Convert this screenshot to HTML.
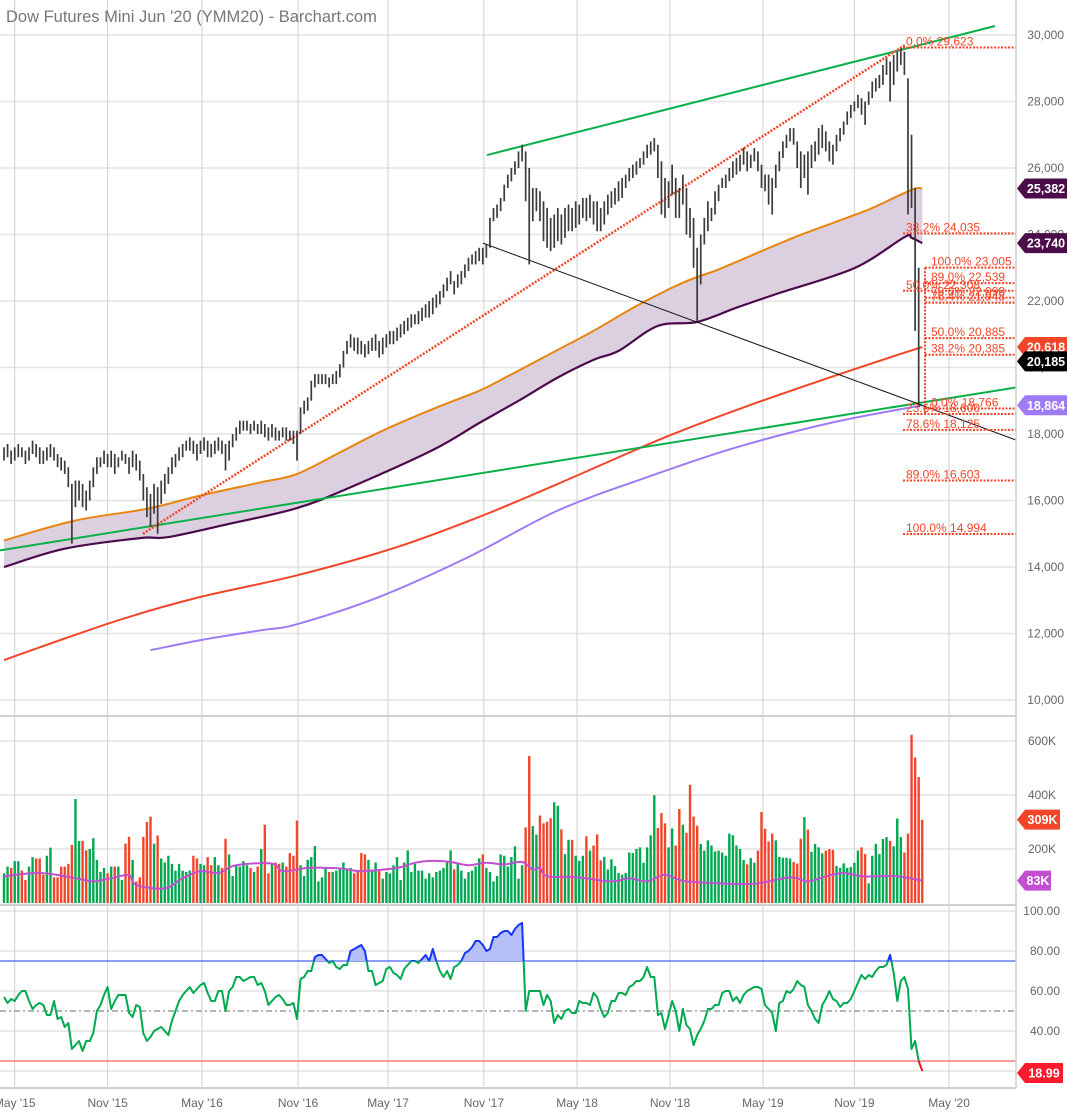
<!DOCTYPE html>
<html><head><meta charset="utf-8"><style>
html,body{margin:0;padding:0;background:#fff;}
svg{display:block;font-family:"Liberation Sans",sans-serif;}
</style></head><body>
<svg id="c" width="1068" height="1115" viewBox="0 0 1068 1115" xmlns="http://www.w3.org/2000/svg">
<defs>
<clipPath id="plotClip"><rect x="0" y="0" width="1016" height="716"/></clipPath>
<clipPath id="rsiHi"><rect x="0" y="905" width="1016" height="56"/></clipPath>
<clipPath id="rsiLo"><rect x="0" y="1061" width="1016" height="30"/></clipPath>
<clipPath id="rsiMid"><rect x="0" y="961" width="1016" height="100"/></clipPath>
</defs>
<g id="grid"></g>
<g id="price" clip-path="url(#plotClip)"></g>
<g id="vol"></g>
<g id="rsi"></g>
<g id="axes"></g>
<text x="6" y="22" font-size="16.5" fill="#777">Dow Futures Mini Jun '20 (YMM20) - Barchart.com</text>
</svg>
<script>
// ---- data (prices in hundreds) ----
const hiH=[176,177,175,176,177,176,175,176,178,177,176,175,176,177,176,174,173,172,170,165,166,166,165,163,166,170,173,173,175,174,175,174,173,175,174,173,175,174,172,168,164,162,165,164,166,168,170,173,174,176,177,178,179,178,177,178,179,178,177,178,179,178,177,178,180,182,184,184,184,183,184,183,184,183,182,183,182,181,182,182,181,181,181,188,190,191,196,198,198,198,198,197,198,199,201,205,208,210,209,209,208,207,208,209,210,208,209,210,211,211,212,213,214,215,216,216,217,218,219,220,221,222,223,225,227,229,226,228,229,231,233,234,235,236,236,237,245,248,249,251,255,258,260,262,265,267,265,260,254,254,253,250,248,245,246,248,246,248,249,248,250,249,251,251,252,250,250,248,250,252,253,254,256,257,258,260,261,262,263,265,267,268,269,267,262,257,256,261,257,254,258,254,248,245,236,240,245,250,248,253,255,257,258,260,262,263,264,266,265,264,266,265,261,258,258,257,261,265,268,270,272,272,268,265,264,265,267,268,272,273,271,268,267,270,272,274,277,279,280,282,281,280,283,286,287,288,291,293,292,294,295,296,295,287,270,254,230];
const loH=[172,173,171,172,173,173,171,172,174,173,171,171,172,173,172,170,169,168,164,147,158,160,158,157,160,164,168,170,171,170,170,168,170,172,171,168,170,169,166,160,155,152,156,150,159,162,165,168,170,172,173,175,175,174,172,174,175,173,173,174,175,174,169,172,176,178,180,181,181,180,181,180,180,179,178,179,178,178,179,178,178,177,172,180,186,187,190,194,195,195,195,194,195,195,197,200,204,206,205,204,204,203,204,205,205,203,204,206,207,207,208,209,210,211,212,213,213,214,215,215,216,218,219,221,223,225,222,224,225,227,229,231,231,232,231,233,236,244,245,247,250,254,256,258,260,262,250,231,244,247,244,238,236,235,236,238,237,239,241,241,242,243,245,244,245,243,241,241,243,246,248,249,250,251,254,256,257,258,260,261,263,264,265,257,246,245,248,252,245,245,249,240,239,230,214,225,237,241,244,246,250,254,254,256,257,258,259,261,259,260,262,259,254,253,249,246,254,259,263,266,268,267,260,254,257,252,260,262,264,266,265,262,261,265,268,270,273,275,277,278,276,273,279,281,283,284,285,288,280,285,289,291,288,246,248,211,188];
const volK=[110,135,130,155,155,120,85,135,170,165,165,105,175,205,95,95,135,135,145,215,385,230,230,195,200,240,160,115,130,110,135,135,135,85,220,245,160,80,95,245,300,320,220,250,165,150,175,145,120,145,120,115,120,175,165,145,140,170,140,170,140,130,238,180,100,140,135,155,140,130,115,135,200,290,110,145,150,145,150,135,185,175,305,140,100,160,170,211,80,95,130,115,115,120,125,150,125,130,110,115,185,180,160,120,150,120,90,115,110,140,170,85,150,195,115,145,120,120,90,110,95,115,120,130,150,195,125,150,120,90,115,120,135,165,180,130,115,80,100,180,175,135,170,210,90,140,280,545,
285,253,324,295,301,314,373,360,273,181,234,234,175,156,175,247,194,213,254,158,171,124,162,137,111,105,111,187,185,200,206,149,206,251,399,278,333,295,206,276,213,348,290,260,438,320,286,219,194,232,213,191,194,187,175,257,251,213,200,159,143,166,149,194,337,275,228,257,232,171,168,168,165,152,146,238,318,272,190,219,206,184,194,200,197,137,130,147,130,133,149,194,206,181,73,175,219,181,237,244,230,210,313,244,187,257,623,539,466,308];
const rsiVals=[57,54,56,55,58,60,60,55,51,53,54,53,48,48,55,46,47,42,44,31,33,35,30,35,35,39,50,53,58,62,51,55,58,58,58,49,47,53,52,39,35,37,40,41,42,40,38,45,50,55,58,60,62,59,61,63,64,59,55,55,60,60,50,60,62,67,67,65,66,67,67,63,64,60,53,55,57,58,56,53,53,54,46,66,67,70,70,77,78,78,76,74,75,72,71,73,73,80,81,82,83,80,70,70,63,64,65,71,72,69,68,66,71,73,75,75,74,76,78,75,81,75,70,67,70,66,72,73,75,79,80,82,85,85,83,80,81,87,87,89,90,90,88,91,93,94,50,60,
60,60,60,53,58,55,44,48,46,50,51,49,49,55,54,54,53,59,57,51,47,49,55,55,59,59,58,62,63,65,65,67,72,67,67,48,49,41,48,55,50,40,51,43,41,33,38,41,45,51,51,53,53,59,60,60,55,57,54,58,60,61,62,62,61,53,51,49,40,54,55,60,59,61,65,63,62,53,50,46,44,53,56,60,56,55,52,54,54,56,60,64,68,66,68,67,70,72,72,73,78,69,55,65,67,61,31,35,25,20];
// moving averages: week index / value
const maUpperWk=[0,20,40,55,72,82,95,106,120,133,140,147,155,165,177,190,200,212,222,232,242,250,255,257];
const maUpperVal=[14800,15400,15750,16150,16550,16800,17500,18100,18750,19300,19680,20075,20530,21100,21850,22550,22950,23500,23950,24350,24750,25150,25380,25382];
const maLowerWk=[0,17,38,46,64,82,97,120,133,144,155,165,172,183,194,205,217,238,252,254,257];
const maLowerVal=[14000,14550,14870,14900,15320,15770,16400,17520,18330,19000,19700,20230,20500,21250,21370,21800,22240,22990,23920,23900,23740];
const maRedWk=[0,17,35,55,82,110,134,155,185,207,238,257];
const maRedVal=[11200,11850,12500,13100,13750,14600,15550,16500,17900,18800,19950,20618];
const maVioWk=[41,55,72,82,105,130,155,180,205,232,257];
const maVioVal=[11500,11800,12100,12280,13100,14300,15700,16700,17600,18350,18864];
const volMaWk=[0,10,20,25,30,35,37,45,50,55,60,65,75,78,85,90,95,100,110,115,120,125,130,135,140,145,148,150,152,160,170,175,180,185,190,200,210,220,225,230,235,240,245,250,257];
const volMaVal=[99,111,92,80,92,103,67,54,92,118,111,140,146,118,130,130,127,118,130,149,156,152,140,149,143,152,124,130,99,96,80,92,80,105,82,73,71,95,80,99,111,99,99,99,83];
const priceTicks=[30000,28000,26000,24000,22000,20000,18000,16000,14000,12000,10000];
const volTicks=[600,400,200];
const rsiTicks=[100,80,60,40];
const xLabels=["May '15","Nov '15","May '16","Nov '16","May '17","Nov '17","May '18","Nov '18","May '19","Nov '19","May '20"];
const xLabelWk=[3.0,29.0,55.4,82.3,107.5,134.3,160.4,186.4,212.4,238.0,264.5];
const fibs=[[29623,"0.0% 29,623",903,906],[24035,"38.2% 24,035",903,906],[23005,"100.0% 23,005",925,931],[22539,"89.0% 22,539",925,931],[22308,"50.0% 22,308",903,906],[22098,"78.6% 22,098",925,931],[21948,"76.4% 21,948",925,931],[20885,"50.0% 20,885",925,931],[20385,"38.2% 20,385",925,931],[18766,"0.0% 18,766",925,931],[18600,"23.6% 18,600",903,906],[18125,"78.6% 18,125",903,906],[16603,"89.0% 16,603",903,906],[14994,"100.0% 14,994",903,906]];

// ---- scales ----
const NS="http://www.w3.org/2000/svg";
const xW=i=>4+i*3.573;
const yP=p=>35+(30000-p)*0.03325;
const yV=k=>903-k*0.27;
const yR=r=>1111-r*2;
function mk(tag,attrs,parent){const e=document.createElementNS(NS,tag);for(const k in attrs)e.setAttribute(k,attrs[k]);parent.appendChild(e);return e;}
const G=id=>document.getElementById(id);
const grid=G('grid'),price=G('price'),vol=G('vol'),rsi=G('rsi'),axes=G('axes');

// grid
priceTicks.forEach(p=>{const l=mk('line',{x1:0,x2:1016,y1:yP(p),y2:yP(p),stroke:'#e4e4e4','stroke-width':1.5},grid);
});
volTicks.forEach(k=>{const l=mk('line',{x1:0,x2:1016,y1:yV(k),y2:yV(k),stroke:'#e4e4e4','stroke-width':1.5},grid);
});
[100,80,60,40,20].forEach(r=>{const l=mk('line',{x1:0,x2:1016,y1:yR(r),y2:yR(r),stroke:'#e4e4e4','stroke-width':1.5},grid);
});
xLabelWk.forEach(w=>{const l=mk('line',{x1:xW(w),x2:xW(w),y1:0,y2:1088,stroke:'#d0d0d0','stroke-width':1},grid);
});

// smooth path helpers
function xy(wk,val,fy){return wk.map((w,i)=>[xW(w),fy(val[i])]);}
function smooth(P){let d='M'+P[0][0].toFixed(1)+','+P[0][1].toFixed(1);
for(let i=0;i<P.length-1;i++){const p0=P[Math.max(0,i-1)],p1=P[i],p2=P[i+1],p3=P[Math.min(P.length-1,i+2)];
const c1=[p1[0]+(p2[0]-p0[0])/6,p1[1]+(p2[1]-p0[1])/6],c2=[p2[0]-(p3[0]-p1[0])/6,p2[1]-(p3[1]-p1[1])/6];
d+=` C${c1[0].toFixed(1)},${c1[1].toFixed(1)} ${c2[0].toFixed(1)},${c2[1].toFixed(1)} ${p2[0].toFixed(1)},${p2[1].toFixed(1)}`;}
return d;}
function smoothRev(P){const R=P.slice().reverse();return smooth(R).replace(/^M/,'L');}

// band fill
const U=xy(maUpperWk,maUpperVal,yP),Lw=xy(maLowerWk,maLowerVal,yP);
const band=mk('path',{d:smooth(U)+' '+smoothRev(Lw)+' Z',fill:'#dccfe0'},price);

function line(wk,val,fy,color,w,parent,name){const l=mk('path',{d:smooth(xy(wk,val,fy)),fill:'none',stroke:color,'stroke-width':w,'stroke-linejoin':'round'},parent);
return l;}
line(maRedWk,maRedVal,yP,'#f2452a',2,price,'ma-red-line');
line(maVioWk,maVioVal,yP,'#9e7bf5',2,price,'ma-violet-line');
line(maUpperWk,maUpperVal,yP,'#e8860c',2,price,'ma-upper-line');
line(maLowerWk,maLowerVal,yP,'#4b0a4b',2.2,price,'ma-lower-line');

// trendlines (annotations)
function tl(x1,p1,x2,p2,color,w,dash,name){const l=mk('line',{x1:x1,y1:yP(p1),x2:x2,y2:yP(p2),stroke:color,'stroke-width':w},price);
if(dash)l.setAttribute('stroke-dasharray',dash);
}
tl(487,26390,995,30270,'#0bb04a',2,null,'upper-trendline');
tl(0,14500,1016,19400,'#0bb04a',2,null,'lower-trendline');
tl(483,23740,1016,17820,'#111',1,null,'black-trendline');
tl(143,15000,905,29700,'#f2452a',2.5,'2,1.5','red-dotted-trendline');

// price bars
hiH.forEach((h,i)=>{const l=mk('line',{x1:xW(i),x2:xW(i),y1:yP(h*100),y2:yP(loH[i]*100),stroke:'#3a3a3a','stroke-width':1.7},price);
});

// fib levels
fibs.forEach(f=>{const y=yP(f[0]);
const l=mk('line',{x1:f[2],x2:1016,y1:y,y2:y,stroke:'#f2452a','stroke-width':2,'stroke-dasharray':'2,1.5'},price);

const t=mk('text',{x:f[3],y:y-2,'font-size':12,fill:'#f2452a'},price);t.textContent=f[1];
});
const fv=mk('line',{x1:925,x2:925,y1:yP(23005),y2:yP(18600),stroke:'#f2452a','stroke-width':2,'stroke-dasharray':'2,1.5'},price);


// volume
volK.forEach((k,i)=>{const up=i===0||(hiH[i]+loH[i])>=(hiH[i-1]+loH[i-1]);
const r=mk('rect',{x:xW(i)-1.2,y:yV(k),width:2.4,height:903-yV(k),fill:up?'#00a84f':'#f2452a'},vol);
});
line(volMaWk,volMaVal,yV,'#c14fd0',2,vol,'volume-ma-line');

// rsi
const rp=rsiVals.map((r,i)=>xW(i).toFixed(1)+','+yR(r).toFixed(1));
const rl=mk('line',{x1:0,x2:1016,y1:yR(75),y2:yR(75),stroke:'#1a3cff','stroke-width':1},rsi);

const rl2=mk('line',{x1:0,x2:1016,y1:yR(25),y2:yR(25),stroke:'#ff7a80','stroke-width':1.5},rsi);

const rl3=mk('line',{x1:0,x2:1016,y1:yR(50),y2:yR(50),stroke:'#888','stroke-width':1.2,'stroke-dasharray':'6,3,2,3'},rsi);

const fillPts=[xW(0)+','+yR(75)].concat(rp).concat([xW(rsiVals.length-1)+','+yR(75)]);
const rf=mk('polygon',{points:fillPts.join(' '),fill:'#b6bff7','clip-path':'url(#rsiHi)'},rsi);

[['url(#rsiMid)','#00a94f','rsi-line'],['url(#rsiHi)','#1434ff','rsi-line-overbought'],['url(#rsiLo)','#ff1020','rsi-line-oversold']].forEach(s=>{
const p=mk('polyline',{points:rp.join(' '),fill:'none',stroke:s[1],'stroke-width':2,'clip-path':s[0],'stroke-linejoin':'round'},rsi);
});

// axes & separators
[[0,716,1016,716],[0,905,1016,905],[0,1088,1016,1088]].forEach(a=>{const l=mk('line',{x1:a[0],y1:a[1],x2:a[2],y2:a[3],stroke:'#cfcfcf','stroke-width':2},axes);
});
const ax=mk('line',{x1:1016,x2:1016,y1:0,y2:1088,stroke:'#cfcfcf','stroke-width':1.5},axes);

priceTicks.forEach(p=>{const t=mk('text',{x:1064,y:yP(p)+4,'font-size':12,fill:'#666','text-anchor':'end'},axes);t.textContent=p.toLocaleString('en-US');
});
volTicks.forEach(k=>{const t=mk('text',{x:1056,y:yV(k)+4,'font-size':12,fill:'#666','text-anchor':'end'},axes);t.textContent=k+'K';
});
rsiTicks.forEach(r=>{const t=mk('text',{x:1060,y:yR(r)+4,'font-size':12,fill:'#666','text-anchor':'end'},axes);t.textContent=r.toFixed(2);
});
xLabels.forEach((s,i)=>{const t=mk('text',{x:xW(xLabelWk[i]),y:1107,'font-size':12,fill:'#666','text-anchor':'middle'},axes);t.textContent=s;
});

// badges
function badge(y,txt,bg,name,w){const g=mk('g',{},axes);

mk('polygon',{points:`1017,${y} 1025,${y-10} ${1017+w},${y-10} ${1017+w},${y+10} 1025,${y+10}`,fill:bg},g);
const t=mk('text',{x:1025+(w-8)/2,y:y+4.5,'font-size':12.5,'font-weight':'bold',fill:'#fff','text-anchor':'middle'},g);t.textContent=txt;}
badge(yP(25382),'25,382','#4a0d4a','last-upper-ma-badge',50);
badge(yP(23740),'23,740','#4a0d4a','last-lower-ma-badge',50);
badge(yP(20618),'20,618','#f2452a','last-red-ma-badge',50);
badge(yP(20185),'20,185','#000','last-price-badge',50);
badge(yP(18864),'18,864','#9e7bf5','last-violet-ma-badge',50);
badge(yV(309),'309K','#f2452a','last-volume-badge',43);
badge(yV(83),'83K','#c14fd0','last-volume-ma-badge',34);
badge(yR(18.99),'18.99','#ff1a2e','last-rsi-badge',46);
</script>
</body></html>
